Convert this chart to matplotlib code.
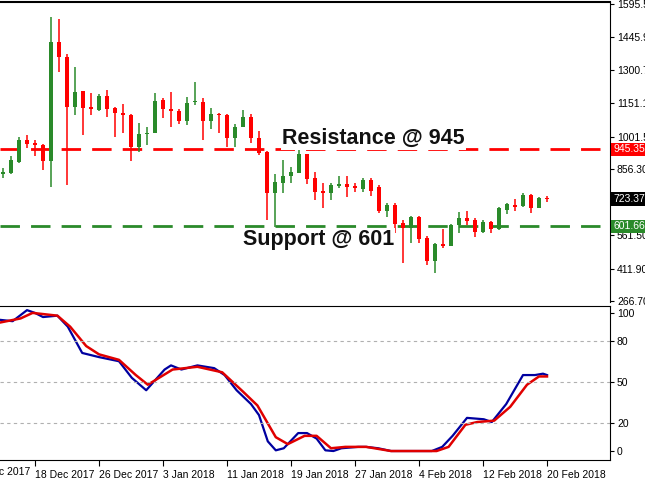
import numpy as np
import matplotlib
matplotlib.use("Agg")
import matplotlib.pyplot as plt

# --- daily candles, 14 Dec 2017 .. 20 Feb 2018 -------------------------------
opens = [835, 839, 888, 987, 974, 965, 893, 1426, 1358, 1135, 1206, 1135, 1121, 1184, 1130,
         1108, 1099, 956, 1014, 1018, 1166, 1126, 1117, 1072, 1157, 1157, 1072, 1103, 1099,
         996, 1045, 1090, 996, 933, 750, 795, 826, 839, 924, 817, 759, 750, 781, 790, 781,
         768, 808, 777, 670, 696, 616, 594, 643, 549, 446, 522, 513, 607, 638, 629, 576,
         620, 589, 674, 696, 692, 741, 683, 728]
closes = [844, 897, 987, 969, 965, 893, 1426, 1358, 1135, 1202, 1130, 1126, 1184, 1126, 1108,
          1099, 956, 1014, 1018, 1162, 1126, 1117, 1072, 1153, 1162, 1072, 1103, 1099, 996,
          1045, 1090, 996, 929, 750, 799, 826, 844, 924, 812, 754, 750, 786, 790, 777, 772,
          808, 759, 670, 696, 612, 594, 643, 544, 446, 522, 513, 607, 638, 625, 576, 620,
          589, 683, 700, 687, 741, 683, 728, 723]
highs = [862, 915, 1001, 1010, 987, 969, 1537, 1528, 1372, 1314, 1206, 1197, 1193, 1211, 1135,
         1148, 1103, 1063, 1045, 1197, 1175, 1202, 1126, 1179, 1247, 1175, 1130, 1108, 1103,
         1059, 1121, 1103, 1027, 938, 835, 897, 866, 942, 924, 844, 795, 795, 826, 826, 795,
         817, 817, 786, 705, 705, 629, 647, 647, 558, 526, 589, 611, 665, 669, 638, 629,
         625, 687, 705, 723, 750, 745, 732, 737]
lows = [817, 835, 884, 951, 915, 853, 777, 1291, 786, 1099, 1010, 1099, 1117, 1090, 1001,
        1018, 893, 933, 965, 1018, 1085, 1045, 1059, 1054, 1144, 987, 1036, 1018, 956,
        956, 1045, 974, 920, 629, 598, 750, 795, 839, 790, 718, 683, 719, 772, 732, 754,
        754, 737, 661, 643, 571, 437, 526, 526, 428, 392, 504, 513, 571, 607, 553, 571,
        571, 583, 656, 669, 687, 661, 683, 710]

# stochastic, read as (candle index, value)
k_day = [-0.4, 1.2, 3.0, 4.0, 5.0, 6.8, 8.1, 9.9, 12.0, 14.5, 16.1, 17.9, 20.2, 21.0,
         22.3, 24.3, 26.4, 27.7, 29.2, 31.0, 32.0, 33.1, 34.1, 35.1, 36.9, 38.0, 39.2,
         40.3, 41.3, 42.3, 44.4, 45.4, 46.9, 48.5, 50.5, 53.6, 54.9, 56.2, 58.0, 60.1,
         61.1, 62.9, 65.0, 66.5, 67.5, 68.0]
k_val = [95, 94, 102, 100, 97, 98, 90, 71, 68, 65, 53, 44, 59, 62, 59, 62, 60, 55, 44, 34,
         26, 7, 0.5, 2, 13, 13, 9, 0.5, 0, 2, 3, 3, 2, 0, 0, 0, 3, 11, 24, 23, 21, 34,
         55, 55, 56, 55]
d_day = [-0.4, 2.2, 3.7, 6.8, 8.4, 10.4, 12.0, 14.5, 16.6, 18.1, 21.2, 24.3, 27.4, 30.0,
         31.8, 34.1, 35.6, 37.7, 39.2, 41.0, 42.8, 45.4, 48.5, 51.1, 54.2, 55.7, 57.8, 59.3,
         61.4, 63.4, 65.5, 67.0, 68.0]
d_val = [93, 96, 100, 98, 90, 76, 70, 66, 55, 48, 59, 61, 57, 43, 33, 10, 5, 11, 11, 2, 3,
         3, 0, 0, 0, 3, 19, 21, 22, 32, 48, 54, 54]

start = np.datetime64("2017-12-14")
tick_dates = ["2017-12-10", "2017-12-18", "2017-12-26", "2018-01-03", "2018-01-11",
              "2018-01-19", "2018-01-27", "2018-02-04", "2018-02-12", "2018-02-20"]
tick_labels = ["10 Dec 2017", "18 Dec 2017", "26 Dec 2017", "3 Jan 2018", "11 Jan 2018",
               "19 Jan 2018", "27 Jan 2018", "4 Feb 2018", "12 Feb 2018", "20 Feb 2018"]
price_ticks = [1595.55, 1445.95, 1300.70, 1151.10, 1001.50, 856.30, 561.50, 411.90, 266.70]
resistance, support, last = 945.35, 601.66, 723.37

GREEN, RED = "#2a8a2a", "#ff0000"
W, H = 645, 482
SMALL = dict(family="Liberation Sans", fontsize=7.5)

fig = plt.figure(figsize=(6.45, 4.82), dpi=100)
ax = fig.add_axes([0, 1 - 302 / H, 610 / W, 300 / H])
ax2 = fig.add_axes([0, 1 - 460 / H, 610 / W, 154 / H], sharex=ax)

x = np.arange(len(opens))
for i in x:
    o, c = opens[i], closes[i]
    col = GREEN if c >= o else RED
    ax.vlines(i, lows[i], highs[i], color=col, lw=1.1, zorder=3)
    ax.bar(i, max(abs(c - o), 4), bottom=min(o, c), width=0.62, color=col, zorder=4)

ax.axhline(resistance, color=RED, lw=2, dashes=(7, 4), zorder=2)
ax.axhline(support, color=GREEN, lw=2, dashes=(7, 4), zorder=2)
text_kw = dict(fontsize=15.5, family="Liberation Sans", fontweight="bold", color="#111111",
               zorder=5, va="center",
               bbox=dict(boxstyle="square,pad=0.05", fc="white", ec="none"))
ax.text(34.9, 996, "Resistance @ 945", **text_kw)
ax.text(30.0, 540, "Support @ 601", **text_kw)

ax.set_ylim(262.4, 1604.6)
ax.yaxis.tick_right()
ax.set_yticks(price_ticks)
ax.set_yticklabels([f"{v:.2f}" for v in price_ticks], **SMALL)
for val, bg, fg in [(resistance, RED, "white"), (last, "black", "white"), (support, GREEN, "white")]:
    ax.text(1.005, val, f"{val:.2f}", transform=ax.get_yaxis_transform(), color=fg,
            va="center", ha="left", clip_on=False, **SMALL,
            bbox=dict(boxstyle="square,pad=0.15", fc=bg, ec="none"))
ax.tick_params(axis="y", length=3, pad=2)
ax.tick_params(axis="x", bottom=False, labelbottom=False)
for s in ["left", "bottom"]:
    ax.spines[s].set_visible(False)
ax.spines["top"].set_linewidth(1.5)

# --- stochastic pane ---------------------------------------------------------
ax2.plot(k_day, k_val, color="#0000a0", lw=1.6)
ax2.plot(d_day, d_val, color="#e00000", lw=1.8)
for lvl in (80, 50, 20):
    ax2.axhline(lvl, color="#b0b0b0", lw=0.8, ls=(0, (3, 3)))
ax2.set_ylim(-6.5, 105)
ax2.yaxis.tick_right()
ax2.set_yticks([100, 80, 50, 20, 0])
ax2.set_yticklabels(["100", "80", "50", "20", "0"], **SMALL)
ax2.tick_params(axis="y", length=3, pad=2)
ticks = [int((np.datetime64(d) - start).astype(int)) for d in tick_dates]
ax2.set_xticks(ticks[1:])
ax2.set_xticklabels(tick_labels[1:], ha="left", **SMALL)
ax2.tick_params(axis="x", length=4, pad=3)
ax2.spines["left"].set_visible(False)
# first label starts left of the pane, only its tail is visible
ax2.text(ticks[0], -0.045, tick_labels[0], transform=ax2.get_xaxis_transform(),
         ha="left", va="top", clip_on=False, **SMALL)

ax.set_xlim(-0.375, 75.875)

fig.savefig("out.png", dpi=100)
